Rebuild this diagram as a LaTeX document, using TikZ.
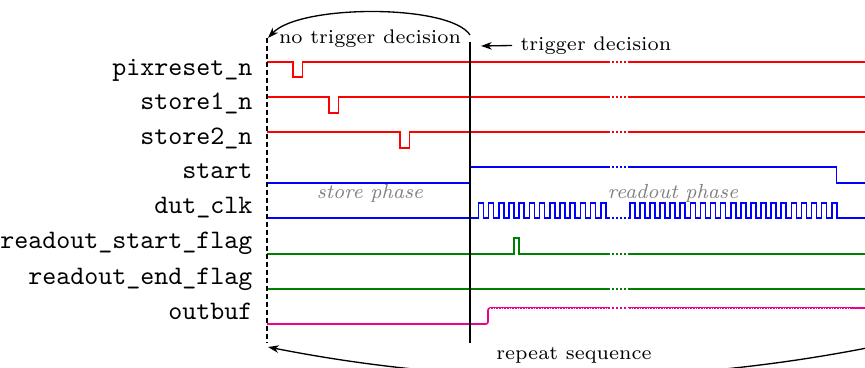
\documentclass[tikz,border=0pt]{standalone}
\usetikzlibrary{arrows.meta}
\begin{document}
\begin{tikzpicture}[x=0.375pt,y=-0.375pt,
  lbl/.style={font=\ttfamily, anchor=base east, inner sep=0pt},
  note/.style={font=\fontsize{7.4}{9}\selectfont, inner sep=0pt},
  phase/.style={font=\fontsize{7.65}{9}\selectfont\itshape, text=gray, inner sep=0pt},
  sig/.style={semithick, line join=miter},
  gapdots/.style={semithick, dash pattern=on 0.6pt off 0.9pt},
  arr/.style={-{Stealth[length=4pt,width=2.8pt,inset=1.2pt]}, line width=0.5pt}]
\useasboundingbox (0,0) rectangle (865,367);
\clip (0,0) rectangle (865,367);

% labels
\node[lbl] (l0) at (253,75.5) {pixreset\_n};
\node[lbl] (l1) at (253,110) {store1\_n};
\node[lbl] (l2) at (253,144.5) {store2\_n};
\node[lbl] (l3) at (253,178.5) {start};
\node[lbl] (l4) at (253,213.5) {dut\_clk};
\node[lbl] (l5) at (253,248.5) {readout\_start\_flag};
\node[lbl] (l6) at (253,284) {readout\_end\_flag};
\node[lbl] (l7) at (253,319.5) {outbuf};

% pixreset_n
\draw[sig,red] (267,62) -- (293,62) -- (293,77) -- (302.5,77) -- (302.5,62) -- (608,62);
\draw[gapdots,red] (608,62) -- (628,62);
\draw[sig,red] (628,62) -- (865,62);
% store1_n
\draw[sig,red] (267,97) -- (329,97) -- (329,113) -- (338.5,113) -- (338.5,97) -- (608,97);
\draw[gapdots,red] (608,97) -- (628,97);
\draw[sig,red] (628,97) -- (865,97);
% store2_n
\draw[sig,red] (267,132) -- (400,132) -- (400,148) -- (409.5,148) -- (409.5,132) -- (608,132);
\draw[gapdots,red] (608,132) -- (628,132);
\draw[sig,red] (628,132) -- (865,132);
% start
\draw[sig,blue] (267,183) -- (470,183) -- (470,167) -- (608,167);
\draw[gapdots,blue] (608,167) -- (628,167);
\draw[sig,blue] (628,167) -- (836.5,167) -- (836.5,183) -- (865,183);
% dut_clk
\draw[sig,blue] (267,218) foreach \i in {0,...,12} { -- ({478.3+10.2*\i},218) -- ++(0,-15) -- ++(5.1,0) -- ++(0,15) } -- (608,218);
\draw[gapdots,blue] (608,218) -- (628,218);
\draw[sig,blue] (628,218) foreach \i in {0,...,20} { -- ({629.7+10.1*\i},218) -- ++(0,-15) -- ++(5.05,0) -- ++(0,15) } -- (865,218);
% readout_start_flag
\definecolor{sgreen}{rgb}{0,0.5,0}
\draw[sig,sgreen] (267,254) -- (514,254) -- (514,238) -- (519,238) -- (519,254) -- (608,254);
\draw[gapdots,sgreen] (608,254) -- (628,254);
\draw[sig,sgreen] (628,254) -- (865,254);
% readout_end_flag
\draw[sig,sgreen] (267,289) -- (608,289);
\draw[gapdots,sgreen] (608,289) -- (628,289);
\draw[sig,sgreen] (628,289) -- (865,289);
% outbuf
\draw[sig,magenta,rounded corners=0.8pt] (267,324) -- (488,324) -- (488,308) -- (608,308);
\draw[gapdots,magenta] (608,308) -- (628,308);
\draw[sig,magenta] (628,308) -- (865,308);
\draw[white,line width=0.2pt,dash pattern=on 0.4pt off 0.6pt] (490,308.6) -- (608,308.6);
\draw[white,line width=0.2pt,dash pattern=on 0.4pt off 0.6pt] (628,308.6) -- (850,308.6);

% phase labels
\node[phase] (sp) at (370,193) {store phase};
\node[phase] (rp) at (673,193) {readout phase};

% markers
\coordinate (dtop) at (267,38);
\coordinate (dbot) at (267,343);
\draw[thin,dash pattern=on 1.9pt off 1.1pt] (dtop) -- (dbot);
\coordinate (ttop) at (470,42);
\coordinate (tbot) at (470,343);
\draw[line width=1.1pt] (ttop) -- (tbot);

% top arc
\coordinate (arcS) at (470,35);
\coordinate (arcE) at (268,38);
\draw[arr] (arcS) .. controls (450,4) and (300,4) .. (arcE);
\node[note] (ntd) at (370,39) {no trigger decision};

% trigger decision
\node[note, anchor=west] (td) at (520,45.5) {trigger decision};
\coordinate (tdtip) at (481,46);
\draw[arr] ([xshift=-3pt]td.west) -- (tdtip);

% bottom arc
\coordinate (bS) at (872,347);
\coordinate (bE) at (268,347);
\draw[arr] (bS) .. controls (670.7,386.7) and (469.3,386.7) .. (bE);
\node[note] (rs) at (574,355) {repeat sequence};
\end{tikzpicture}
\end{document}
